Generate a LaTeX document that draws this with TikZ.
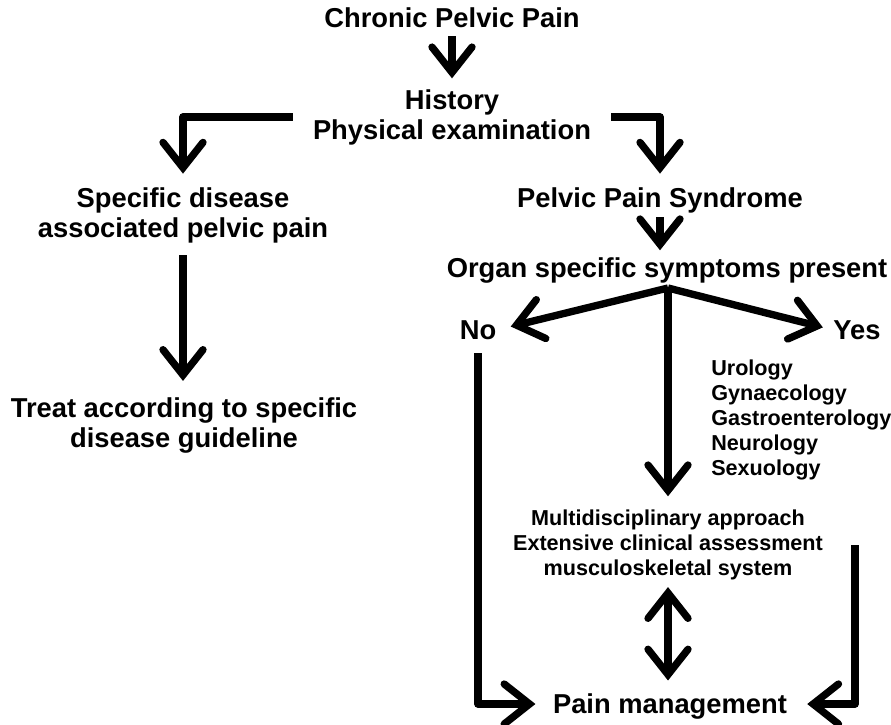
\documentclass[tikz,border=0pt]{standalone}
\usepackage{fontspec}
\setmainfont{Liberation Sans}
\usetikzlibrary{arrows.meta, positioning, calc}

\tikzset{
  big/.style={font=\fontsize{20.5}{22.5}\selectfont\bfseries, inner sep=0pt, align=center},
  small/.style={font=\fontsize{16.2}{18.8}\selectfont\bfseries, inner sep=0pt, align=center},
  barb/.tip={Straight Barb[length=19pt, width=30pt, line cap=round, line join=miter]},
  arr/.style={line width=5.5pt, line join=round, -barb},
  dblarr/.style={line width=5.5pt, barb-barb},
}

\begin{document}
\begin{tikzpicture}[x=0.75pt, y=-0.75pt]
  \useasboundingbox (0,0) rectangle (891,724);

  \node[big] (chronic) at (452,18) {Chronic Pelvic Pain};
  \node[big] (history) at (452,117) {History\\Physical examination};
  \node[big] (specific) at (183,215) {Specific disease\\associated pelvic pain};
  \node[big] (treat) at (184,425) {Treat according to specific\\disease guideline};
  \node[big] (pps) at (660,200) {Pelvic Pain Syndrome};
  \node[big] (organ) at (667,270) {Organ specific symptoms present};
  \node[big] (no) at (478,330) {No};
  \node[big] (yes) at (857,330) {Yes};
  \node[small, align=left, anchor=west] (spec) at (711,420) {Urology\\Gynaecology\\Gastroenterology\\Neurology\\Sexuology};
  \node[small] (multi) at (668,545) {Multidisciplinary approach\\Extensive clinical assessment\\musculoskeletal system};
  \node[big, text depth=0pt] (pain) at (670,704) {Pain management};

  \coordinate (fork) at (668,288);
  \coordinate (mright) at (855,545);

  \draw[arr, shorten <=6pt, shorten >=8pt] (chronic) -- (history);
  \draw[arr, shorten <=15pt, shorten >=10pt] (history.west) -| (specific);
  \draw[arr, shorten <=15pt, shorten >=10pt] (history.east) -| (pps);
  \draw[arr, shorten <=9pt, shorten >=12pt] (specific) -- (specific |- treat.north);
  \draw[arr, shorten <=3pt, shorten >=5pt] (pps) -- (pps |- organ.north);
  \draw[arr, shorten >=11pt] (fork) -- (no.east);
  \draw[arr, shorten >=8pt] (fork) -- (yes.west);
  \draw[arr, shorten >=10pt] (fork) -- (fork |- multi.north);
  \draw[arr, shorten <=10pt, shorten >=13pt] (no) |- (pain.west);
  \draw[arr, shorten >=15pt] (mright) |- (pain.east);
  \draw[dblarr, shorten <=5pt, shorten >=10pt] (multi) -- (multi |- pain.north);
\end{tikzpicture}
\end{document}
